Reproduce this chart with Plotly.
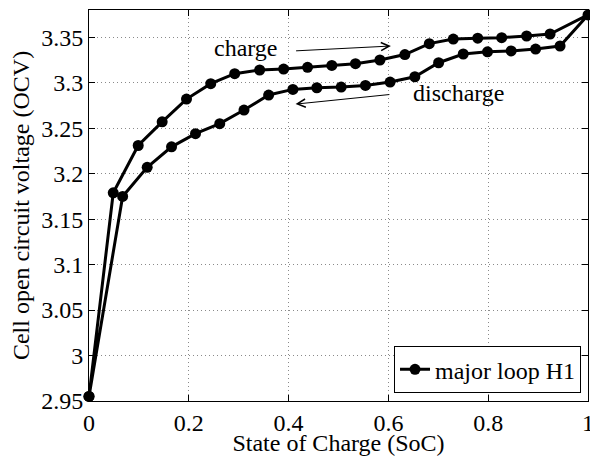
import plotly.graph_objects as go
import plotly.io as pio

pio.templates.default = "none"

# Charge branch (SoC increasing)
charge_soc = [0.0, 0.0486, 0.0986, 0.1466, 0.1954, 0.244, 0.292, 0.342, 0.39, 0.438,
              0.4866, 0.534, 0.583, 0.633, 0.682, 0.73, 0.779, 0.827, 0.877, 0.924, 1.0]
charge_ocv = [2.955, 3.179, 3.231, 3.257, 3.282, 3.299, 3.310, 3.314, 3.315, 3.317,
              3.319, 3.321, 3.325, 3.331, 3.343, 3.348, 3.349, 3.3496, 3.3514, 3.3536, 3.3746]

# Discharge branch (SoC decreasing)
discharge_soc = [1.0, 0.944, 0.895, 0.846, 0.7986, 0.75, 0.7006, 0.653, 0.6034, 0.554,
                 0.5054, 0.4566, 0.4086, 0.36, 0.3106, 0.262, 0.2134, 0.1654, 0.1166, 0.0674, 0.0]
discharge_ocv = [3.3746, 3.3404, 3.337, 3.335, 3.334, 3.3316, 3.322, 3.3066, 3.3008, 3.297,
                 3.2953, 3.2945, 3.2927, 3.2865, 3.270, 3.255, 3.244, 3.2295, 3.207, 3.175, 2.955]

x_tickvals = [0, 0.2, 0.4, 0.6, 0.8, 1]
x_ticktext = ["0", "0.2", "0.4", "0.6", "0.8", "1"]
y_tickvals = [2.95, 3.0, 3.05, 3.1, 3.15, 3.2, 3.25, 3.3, 3.35]
y_ticktext = ["2.95", "3", "3.05", "3.1", "3.15", "3.2", "3.25", "3.3", "3.35"]

loop_soc = charge_soc + discharge_soc[1:]
loop_ocv = charge_ocv + discharge_ocv[1:]

FONT = "Liberation Serif"
FS = 24

fig = go.Figure()
fig.add_trace(go.Scatter(
    x=loop_soc, y=loop_ocv, mode="lines+markers", name="major loop H1",
    line=dict(color="black", width=3),
    marker=dict(color="black", size=11, symbol="circle"),
    cliponaxis=False,
))

axis_common = dict(
    showline=True, linecolor="black", linewidth=1, mirror="ticks",
    ticks="inside", ticklen=6, tickcolor="black", tickwidth=1,
    showgrid=True, gridcolor="#8a8a8a", gridwidth=1, griddash="1px,3px",
    zeroline=False, ticklabeloverflow="allow",
    tickfont=dict(family=FONT, size=FS, color="black"),
)

fig.update_xaxes(
    range=[0, 1], tickvals=x_tickvals, ticktext=x_ticktext,
    title=dict(text="State of Charge (SoC)", font=dict(family=FONT, size=FS, color="black"), standoff=10),
    **axis_common,
)
fig.update_yaxes(
    range=[2.95, 3.38], tickvals=y_tickvals, ticktext=y_ticktext,
    title=dict(text="Cell open circuit voltage (OCV)", font=dict(family=FONT, size=FS, color="black"), standoff=4),
    **axis_common,
)

arrow_style = dict(xref="x", yref="y", axref="x", ayref="y", showarrow=True,
                   arrowhead=5, arrowsize=1.6, arrowwidth=1, arrowcolor="black", text="")
fig.add_annotation(x=0.605, y=3.3404, ax=0.412, ay=3.335, **arrow_style)
fig.add_annotation(x=0.414, y=3.2765, ax=0.605, ay=3.2872, **arrow_style)

fig.add_annotation(x=0.314, y=3.338, text="charge", showarrow=False,
                   font=dict(family=FONT, size=FS, color="black"))
fig.add_annotation(x=0.742, y=3.2886, text="discharge", showarrow=False,
                   font=dict(family=FONT, size=FS, color="black"))

fig.update_layout(
    width=590, height=456,
    margin=dict(l=89, r=2, t=10, b=55),
    paper_bgcolor="white", plot_bgcolor="white",
    font=dict(family=FONT, size=FS, color="black"),
    showlegend=True,
    legend=dict(x=0.986, y=0.02, xanchor="right", yanchor="bottom",
                bgcolor="white", bordercolor="black", borderwidth=1,
                font=dict(family=FONT, size=FS, color="black"),
                tracegroupgap=0, itemwidth=30),
)

fig.write_html("out.html")
